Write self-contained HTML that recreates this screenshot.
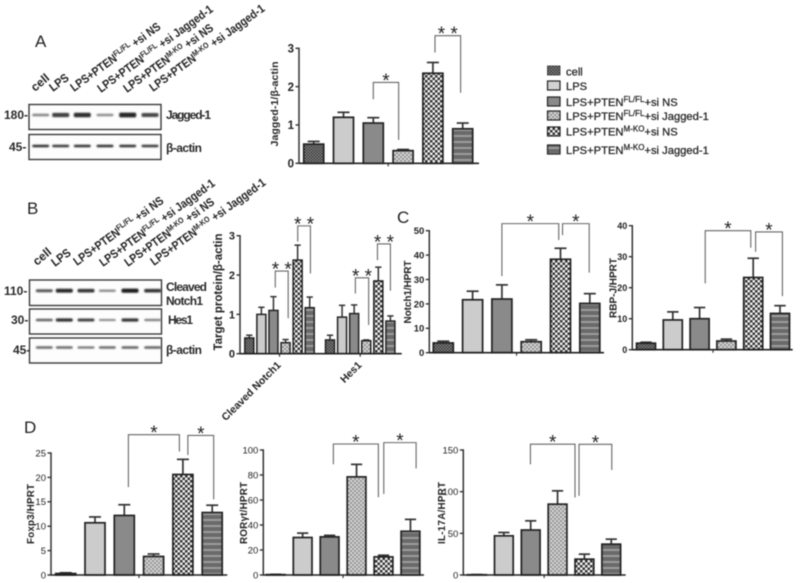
<!DOCTYPE html>
<html>
<head>
<meta charset="utf-8">
<style>
html,body{margin:0;padding:0;background:#fff;}
#figure{display:block;width:800px;height:583px;filter:blur(0.4px);}
text{font-family:"Liberation Sans",sans-serif;fill:#222;}
.blot-text{font-weight:bold;font-size:12px;fill:#2a2a2a;}
.lane{font-weight:bold;font-size:12px;fill:#222;}
.lane tspan.s{font-size:8px;}
.legend-text{font-size:11.2px;fill:#222;stroke:#222;stroke-width:0.25px;}
.legend-text tspan.s{font-size:8px;}
.letter{font-size:17px;fill:#222;}
</style>
</head>
<body>
<svg id="figure" xmlns="http://www.w3.org/2000/svg" width="800" height="583" viewBox="0 0 800 583">
<defs>
<pattern id="p0" patternUnits="userSpaceOnUse" width="3" height="3"><rect width="3" height="3" fill="#8a8a8a"/><rect width="1.5" height="1.5" fill="#333"/><rect x="1.5" y="1.5" width="1.5" height="1.5" fill="#333"/></pattern>
<pattern id="p1" patternUnits="userSpaceOnUse" width="2" height="2"><rect width="2" height="2" fill="#d2d2d2"/><rect width="2" height="1" fill="#c6c6c6"/></pattern>
<pattern id="p2" patternUnits="userSpaceOnUse" width="2" height="2"><rect width="2" height="2" fill="#8a8a8a"/></pattern>
<pattern id="p3" patternUnits="userSpaceOnUse" width="4" height="4"><rect width="4" height="4" fill="#d8d8d8"/><rect width="2" height="2" fill="#959595"/><rect x="2" y="2" width="2" height="2" fill="#959595"/></pattern>
<pattern id="p4" patternUnits="userSpaceOnUse" width="5" height="5"><rect width="5" height="5" fill="#f2f2f2"/><rect width="2.5" height="2.5" fill="#333"/><rect x="2.5" y="2.5" width="2.5" height="2.5" fill="#333"/></pattern>
<pattern id="p5" patternUnits="userSpaceOnUse" width="6" height="6"><rect width="6" height="6" fill="#6a6a6a"/><rect y="3" width="6" height="2" fill="#9c9c9c"/></pattern>
<filter id="band-blur" x="-30%" y="-100%" width="160%" height="300%"><feGaussianBlur stdDeviation="0.8"/></filter>
</defs>

<text class="letter" x="35" y="47">A</text>
<text class="letter" x="27" y="214">B</text>
<text class="letter" x="397" y="223">C</text>
<text class="letter" x="24" y="433">D</text>

<g>
<text class="lane" transform="translate(35,92) rotate(-40)">cell</text>
<text class="lane" transform="translate(53,92) rotate(-37) scale(.9,1)">LPS</text>
<text class="lane" transform="translate(74,92) rotate(-36) scale(.87,1)">LPS+PTEN<tspan class="s" dy="-4">FL/FL</tspan><tspan dy="4"> +si NS</tspan></text>
<text class="lane" transform="translate(101,93) rotate(-36) scale(.87,1)">LPS+PTEN<tspan class="s" dy="-4">FL/FL</tspan><tspan dy="4"> +si Jagged-1</tspan></text>
<text class="lane" transform="translate(127,93) rotate(-36) scale(.87,1)">LPS+PTEN<tspan class="s" dy="-4">M-KO</tspan><tspan dy="4"> +si NS</tspan></text>
<text class="lane" transform="translate(153,92) rotate(-36) scale(.87,1)">LPS+PTEN<tspan class="s" dy="-4">M-KO</tspan><tspan dy="4"> +si Jagged-1</tspan></text>
</g>
<g>
<text class="lane" transform="translate(37,266) rotate(-40)">cell</text>
<text class="lane" transform="translate(55,267) rotate(-37) scale(.9,1)">LPS</text>
<text class="lane" transform="translate(77,266) rotate(-36) scale(.87,1)">LPS+PTEN<tspan class="s" dy="-4">FL/FL</tspan><tspan dy="4"> +si NS</tspan></text>
<text class="lane" transform="translate(103,267) rotate(-36) scale(.87,1)">LPS+PTEN<tspan class="s" dy="-4">FL/FL</tspan><tspan dy="4"> +si Jagged-1</tspan></text>
<text class="lane" transform="translate(128,267) rotate(-36) scale(.87,1)">LPS+PTEN<tspan class="s" dy="-4">M-KO</tspan><tspan dy="4"> +si NS</tspan></text>
<text class="lane" transform="translate(154,266) rotate(-36) scale(.87,1)">LPS+PTEN<tspan class="s" dy="-4">M-KO</tspan><tspan dy="4"> +si Jagged-1</tspan></text>
</g>

<g>
<text class="blot-text" x="4" y="119">180-</text>
<text class="blot-text" x="9" y="151">45-</text>
<text class="blot-text" x="166" y="119" textLength="45">Jagged-1</text>
<text class="blot-text" x="166" y="152" textLength="36">β-actin</text>
<text class="blot-text" x="4" y="295">110-</text>
<text class="blot-text" x="11" y="324">30-</text>
<text class="blot-text" x="13" y="354">45-</text>
<text class="blot-text" x="166" y="291" textLength="41">Cleaved</text>
<text class="blot-text" x="166" y="305" textLength="37">Notch1</text>
<text class="blot-text" x="168" y="324" textLength="25">Hes1</text>
<text class="blot-text" x="166" y="354" textLength="36">β-actin</text>
</g>

<g>
<rect x="547.5" y="66" width="12.5" height="9" fill="url(#p0)" stroke="#333" stroke-width="0.8"/>
<rect x="547.5" y="81" width="12.5" height="9" fill="#d2d2d2" stroke="#222" stroke-width="1.2"/>
<rect x="547.5" y="97" width="12.5" height="9" fill="#8a8a8a" stroke="#222" stroke-width="1.2"/>
<rect x="547.5" y="111" width="12.5" height="9" fill="url(#p3)" stroke="#222" stroke-width="1.2"/>
<rect x="547.5" y="127" width="12.5" height="9" fill="url(#p4)" stroke="#222" stroke-width="1.2"/>
<rect x="547.5" y="145" width="12.5" height="9" fill="url(#p5)" stroke="#222" stroke-width="1.2"/>
<text class="legend-text" x="566" y="75.5">cell</text>
<text class="legend-text" x="566" y="90">LPS</text>
<text class="legend-text" x="566" y="106">LPS+PTEN<tspan class="s" dy="-4">FL/FL</tspan><tspan dy="4">+si NS</tspan></text>
<text class="legend-text" x="566" y="120">LPS+PTEN<tspan class="s" dy="-4">FL/FL</tspan><tspan dy="4">+si Jagged-1</tspan></text>
<text class="legend-text" x="566" y="135.5">LPS+PTEN<tspan class="s" dy="-4">M-KO</tspan><tspan dy="4">+si NS</tspan></text>
<text class="legend-text" x="566" y="154">LPS+PTEN<tspan class="s" dy="-4">M-KO</tspan><tspan dy="4">+si Jagged-1</tspan></text>
</g>
<g id="blots"></g>
<g id="charts"></g>
</svg>

<script>
// ---- chart data ----
const aValues = [0.5, 1.2, 1.05, 0.33, 2.35, 0.9];
const aErrors = [0.07, 0.13, 0.14, 0.03, 0.28, 0.15];
const aTicks = [0, 1, 2, 3];

const bNotchValues = [0.4, 1.0, 1.1, 0.28, 2.38, 1.17];
const bNotchErrors = [0.07, 0.18, 0.35, 0.08, 0.38, 0.27];
const bHesValues = [0.35, 0.93, 1.02, 0.33, 1.85, 0.83];
const bHesErrors = [0.12, 0.3, 0.22, 0.02, 0.35, 0.13];
const bTicks = [0, 1, 2, 3];
const bCategories = ["Cleaved Notch1", "Hes1"];

const notchValues = [4, 21.7, 22, 4.5, 38.3, 20.2];
const notchErrors = [0.7, 3.5, 5.8, 0.8, 4.5, 4];
const notchTicks = [0, 10, 20, 30, 40, 50];

const rbpValues = [2.1, 9.6, 10, 2.8, 23.3, 11.7];
const rbpErrors = [0.3, 2.6, 3.6, 0.6, 6.2, 2.5];
const rbpTicks = [0, 10, 20, 30, 40];

const foxValues = [0.3, 10.7, 12.2, 3.8, 20.6, 12.8];
const foxErrors = [0.15, 1.2, 2.2, 0.5, 3.1, 1.5];
const foxTicks = [0, 5, 10, 15, 20, 25];

const rorValues = [0.3, 30, 30.5, 78.5, 14.5, 35];
const rorErrors = [0.2, 3.5, 1.2, 10, 1.3, 9.5];
const rorTicks = [0, 20, 40, 60, 80, 100];

const ilValues = [0.3, 47, 54, 85, 19, 37];
const ilErrors = [0.2, 4, 11, 16, 6, 6];
const ilTicks = [0, 50, 100, 150];

// significance brackets: category-from, category-to, top value, left-foot value, right-foot value, stars
const aBrackets = [[2, 2.85, 2.11, 1.67, 0.61, "*"], [4.07, 4.93, 3.33, 2.89, 1.84, "* *"]];
const bNotchBrackets = [[2.15, 3.22, 2.1, 1.68, 0.9, "* *"], [4.01, 5.06, 3.25, 2.85, 2.04, "* *"]];
const bHesBrackets = [[2.1, 3.2, 1.93, 1.53, 0.73, "* *"], [3.93, 5, 2.79, 2.38, 1.6, "* *"]];
const notchBrackets = [[2, 3.94, 52.9, 31.4, 46.2, "*"], [4.07, 4.98, 52.9, 48.2, 32.8, "*"]];
const rbpBrackets = [[2.21, 3.91, 38.4, 21.4, 32.9, "*"], [4.09, 5.09, 38, 31.6, 17.3, "*"]];
const foxBrackets = [[2.14, 3.88, 28.75, 18, 25.3, "*"], [4.17, 5.05, 28.6, 24.6, 15.5, "*"]];
const rorBrackets = [[2.14, 3.81, 104.8, 88.6, 62.2, "*"], [4.01, 5.21, 105.9, 64.8, 85.3, "*"]];
const ilBrackets = [[1.99, 3.65, 157, 132.8, 93, "*"], [3.8, 5.02, 156.8, 95, 126, "*"]];

// western blot band intensities per lane
const jaggedBands = [0.35, 0.75, 0.85, 0.3, 0.9, 0.7];
const actinABands = [0.85, 0.8, 0.85, 0.85, 0.85, 0.8];
const notchBands = [0.6, 0.9, 0.8, 0.35, 0.95, 0.8];
const hesBands = [0.55, 0.85, 0.75, 0.35, 0.8, 0.4];
const actinBBands = [0.5, 0.5, 0.45, 0.5, 0.55, 0.55];

const NS = "http://www.w3.org/2000/svg";
function el(parent, tag, attrs, txt) {
  const n = document.createElementNS(NS, tag);
  for (const k in attrs) n.setAttribute(k, attrs[k]);
  if (txt !== undefined) n.textContent = txt;
  parent.appendChild(n);
  return n;
}

// ---- blots ----
const blotRoot = document.getElementById("blots");
function drawBlot(name, box, laneX, bandY, bands, thick) {
  const g = el(blotRoot, "g", {});
  
  
  const frame = el(g, "rect", {x: box[0], y: box[1], width: box[2], height: box[3], fill: "#fdfdfd", stroke: "#3a3a3a", "stroke-width": 1.4});
  
  
  bands.forEach(function (v, i) {
    const h = 1.2 + thick * v;
    const c = Math.round(190 - 170 * v);
    const b = el(g, "rect", {x: laneX[i] - 8.5, y: bandY - h / 2, width: 17, height: h, rx: 1.5, fill: "rgb(" + c + "," + c + "," + c + ")", filter: "url(#band-blur)"});
    
    
  });
}
const laneXA = [40.7, 60.7, 82.3, 105, 127.7, 150];
const laneXB = [44.3, 64.3, 86, 107.3, 130, 152.7];
drawBlot("blot-jagged-1", [29, 104.5, 132, 25], laneXA, 115, jaggedBands, 4);
drawBlot("blot-actin-a", [29, 134.5, 132, 25], laneXA, 146, actinABands, 1.5);
drawBlot("blot-cleaved-notch1", [29.5, 280, 132, 25.5], laneXB, 290.7, notchBands, 3);
drawBlot("blot-hes1", [29.5, 309, 132, 25], laneXB, 320, hesBands, 2.5);
drawBlot("blot-actin-b", [29.5, 338, 132, 25], laneXB, 347.5, actinBBands, 2.5);

// ---- charts ----
const chartRoot = document.getElementById("charts");
function drawChart(c) {
  const g = el(chartRoot, "g", {});
  
  
  const yMax = c.ticks[c.ticks.length - 1];
  const y = function (v) { return c.yBottom - (v / yMax) * (c.yBottom - c.yTop); };

  c.groups.forEach(function (grp) {
    const x = function (i) { return grp.start + c.step * i; };
    grp.values.forEach(function (v, i) {
      const top = y(v), ey = y(v + grp.errors[i]), cx = x(i), capW = c.barWidth * c.capRatio;
      const e = el(g, "line", {x1: cx, x2: cx, y1: top, y2: ey, stroke: "#333", "stroke-width": c.lw});
      
      
      const cap = el(g, "line", {x1: cx - capW, x2: cx + capW, y1: ey, y2: ey, stroke: "#333", "stroke-width": c.lw});
      
      
      const r = el(g, "rect", {x: cx - c.barWidth / 2, y: top, width: c.barWidth, height: c.yBottom - top, fill: "url(#p" + i + ")", stroke: "#222", "stroke-width": c.lw});
      
      
    });
    const t = el(g, "line", {x1: x(2.5), x2: x(2.5), y1: c.yBottom, y2: c.yBottom + 3, stroke: "#333", "stroke-width": 1.2});
    
    
    if (grp.label) {
      const lb = el(g, "text", {"text-anchor": "end", "font-size": c.catSize, "font-weight": "bold", fill: "#333", transform: "translate(" + (x(2.5) + 2) + "," + (c.yBottom + 12) + ") rotate(-45)"}, grp.label);
      
      
    }
    grp.brackets.forEach(function (b) {
      const xa = x(b[0]), xb = x(b[1]), yt = y(b[2]);
      const p = el(g, "polyline", {points: xa + "," + y(b[3]) + " " + xa + "," + yt + " " + xb + "," + yt + " " + xb + "," + y(b[4]), fill: "none", stroke: "#666", "stroke-width": 1.1});
      
      
      const s = el(g, "text", {x: (xa + xb) / 2, y: yt + 4.5, "text-anchor": "middle", "font-size": 19, fill: "#333"}, b[5]);
      
      
    });
  });

  const axY = el(g, "line", {x1: c.xLeft, x2: c.xLeft, y1: c.yTop - 0.7, y2: c.yBottom + 0.7, stroke: "#333", "stroke-width": 1.5});
  
  
  const axX = el(g, "line", {x1: c.xLeft, x2: c.xRight, y1: c.yBottom, y2: c.yBottom, stroke: "#222", "stroke-width": 1.6});
  
  
  c.ticks.forEach(function (tv) {
    const yy = y(tv);
    const tk = el(g, "line", {x1: c.xLeft - 3.5, x2: c.xLeft, y1: yy, y2: yy, stroke: "#333", "stroke-width": 1.4});
    
    
    const tl = el(g, "text", {x: c.xLeft - 5, y: yy + c.tickSize * 0.36, "text-anchor": "end", "font-size": c.tickSize, "font-weight": c.tickWeight, fill: "#333"}, tv);
    
    
  });
  const ti = el(g, "text", {"text-anchor": "middle", "font-size": c.titleSize, "font-weight": "bold", fill: "#333", textLength: c.titleLen, transform: "translate(" + c.titleX + "," + c.titleY + ") rotate(-90)"}, c.title);
  
  
}

const bars = {capRatio: 0.3, lw: 1.7, tickWeight: "bold", catSize: 10.5};
drawChart(Object.assign({}, bars, {name: "chart-a-jagged-1", ticks: aTicks, title: "Jagged-1/β-actin", titleX: 278, titleY: 104, titleLen: 85, titleSize: 10.5, tickSize: 11.5,
  xLeft: 299, xRight: 479, yBottom: 163.3, yTop: 48.3, step: 29.8, barWidth: 20,
  groups: [{start: 313.7, values: aValues, errors: aErrors, brackets: aBrackets}]}));
drawChart(Object.assign({}, bars, {name: "chart-b-target-protein", ticks: bTicks, title: "Target protein/β-actin", titleX: 222, titleY: 292, titleLen: 117, titleSize: 11.5, tickSize: 11, capRatio: 0.35, lw: 1.5,
  xLeft: 240, xRight: 401.7, yBottom: 353.7, yTop: 235.7, step: 12.08, barWidth: 9,
  groups: [
    {start: 249.3, values: bNotchValues, errors: bNotchErrors, brackets: bNotchBrackets, label: bCategories[0]},
    {start: 330, values: bHesValues, errors: bHesErrors, brackets: bHesBrackets, label: bCategories[1]}
  ]}));
drawChart(Object.assign({}, bars, {name: "chart-c-notch1", ticks: notchTicks, title: "Notch1/HPRT", titleX: 411, titleY: 292, titleLen: 63, titleSize: 10, tickSize: 9.5,
  xLeft: 429.3, xRight: 604, yBottom: 352.7, yTop: 230.7, step: 29.3, barWidth: 20,
  groups: [{start: 443.3, values: notchValues, errors: notchErrors, brackets: notchBrackets}]}));
drawChart(Object.assign({}, bars, {name: "chart-c-rbp-j", ticks: rbpTicks, title: "RBP-J/HPRT", titleX: 616.5, titleY: 288, titleLen: 60, titleSize: 10, tickSize: 9,
  xLeft: 632.3, xRight: 792.7, yBottom: 349.7, yTop: 225.7, step: 26.8, barWidth: 19,
  groups: [{start: 646, values: rbpValues, errors: rbpErrors, brackets: rbpBrackets}]}));
drawChart(Object.assign({}, bars, {name: "chart-d-foxp3", ticks: foxTicks, title: "Foxp3/HPRT", titleX: 34, titleY: 514, titleLen: 60, titleSize: 9.8, tickSize: 9.5, tickWeight: "normal",
  xLeft: 51, xRight: 227.3, yBottom: 575, yTop: 453, step: 29.3, barWidth: 20,
  groups: [{start: 65.7, values: foxValues, errors: foxErrors, brackets: foxBrackets}]}));
drawChart(Object.assign({}, bars, {name: "chart-d-ror-gamma-t", ticks: rorTicks, title: "RORγt/HPRT", titleX: 247, titleY: 513, titleLen: 62, titleSize: 9.8, tickSize: 9.5, tickWeight: "normal",
  xLeft: 263.3, xRight: 424, yBottom: 575, yTop: 450, step: 26.95, barWidth: 18.7,
  groups: [{start: 275.7, values: rorValues, errors: rorErrors, brackets: rorBrackets}]}));
drawChart(Object.assign({}, bars, {name: "chart-d-il-17a", ticks: ilTicks, title: "IL-17A/HPRT", titleX: 445, titleY: 513, titleLen: 62, titleSize: 9.8, tickSize: 9.5, tickWeight: "normal",
  xLeft: 463.3, xRight: 625.7, yBottom: 575, yTop: 450, step: 26.85, barWidth: 18.7,
  groups: [{start: 477, values: ilValues, errors: ilErrors, brackets: ilBrackets}]}));
</script>
</body>
</html>
